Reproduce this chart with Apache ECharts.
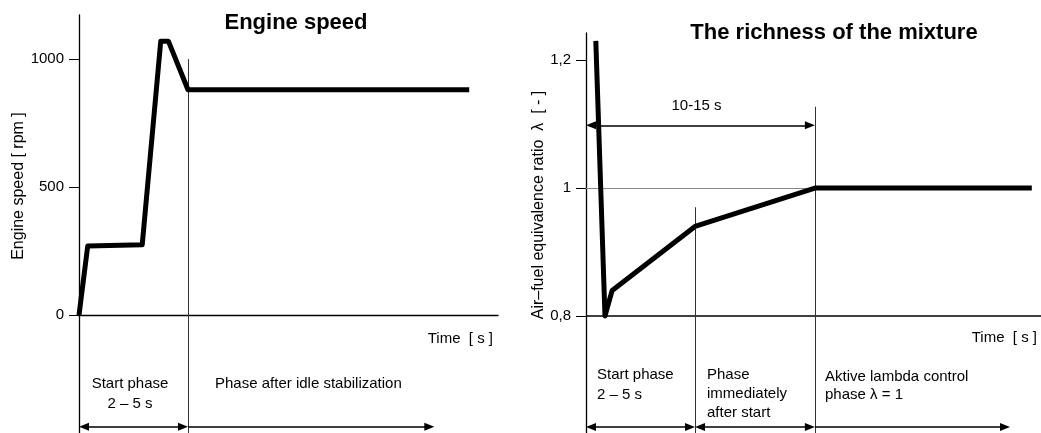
<!DOCTYPE html>
<html><head><meta charset="utf-8">
<script src="https://cdn.jsdelivr.net/npm/echarts@6/dist/echarts.min.js"></script>
<style>html,body{margin:0;padding:0;background:#fff}#c{width:1041px;height:433px}</style>
</head><body><div id="c"></div>
<script>
// ---------------- data ----------------
const speedTime  = [0, 0.4, 2.9, 3.75, 4.1, 5.0, 17.9];      // s
const speedRpm   = [0, 270, 275, 1070, 1070, 880, 880];      // rpm
const lambdaTime = [0.45, 0.87, 1.2, 5.0, 10.5, 20.45];       // s
const lambdaVal  = [1.23, 0.80, 0.84, 0.94, 1.0, 1.0];        // λ
const speedTicks  = [0, 500, 1000];
const lambdaTicks = [0.8, 1.0, 1.2];
const speedPhaseBounds  = [0, 5.0, 16.3];
const lambdaPhaseBounds = [0, 5.0, 10.5, 19.45];
const lambdaWindow = [0, 10.5];        // "10-15 s"
const titles = ['Engine speed', 'The richness of the mixture'];
const speedAxisName  = 'Engine speed [ rpm ]';
const lambdaAxisName = 'Air–fuel equivalence ratio  λ  [ - ]';
const timeAxisName   = 'Time  [ s ]';
const windowLabel    = '10-15 s';
const speedPhaseLabels  = ['Start phase\n2 – 5 s', 'Phase after idle stabilization'];
const lambdaPhaseLabels = ['Start phase\n2 – 5 s', 'Phase\nimmediately\nafter start', 'Aktive lambda control\nphase λ = 1'];

// ---------------- layout / style ----------------
const FONT = 'Liberation Sans, Arial, sans-serif';
const PX_PER_S = 21.8;
const speedRange  = {min: -460, max: 1172};
const lambdaRange = {min: 0.6172, max: 1.2422};
const speedArrowY  = -436;
const lambdaArrowY = 0.6266;
const windowArrowY = 1.098;
const speedVLineTop = [1000];            // top of boundary line (value)
const lambdaVLineTop = [0.97, 1.127];
const HEAD_LEN = 10;
const PAD = (HEAD_LEN / 2) / PX_PER_S;   // so the arrow tip sits on the boundary

const zip = (a, b) => a.map((v, i) => [v, b[i]]);
const thin = {color: '#333', width: 1, type: 'solid'};
const arrowStyle = {color: '#000', width: 1.5, type: 'solid'};
const TRI = 'triangle', AS = [8, HEAD_LEN];

function arrow(x1, x2, y, headL, headR) {
  return [
    {coord: [headL ? x1 + PAD : x1, y], symbol: headL ? TRI : 'none', symbolSize: AS, lineStyle: arrowStyle},
    {coord: [headR ? x2 - PAD : x2, y], symbol: headR ? TRI : 'none', symbolSize: AS}
  ];
}

const speedMarks = [
  [{coord: [speedPhaseBounds[1], speedVLineTop[0]], lineStyle: thin}, {coord: [speedPhaseBounds[1], speedRange.min]}],
  arrow(speedPhaseBounds[0], speedPhaseBounds[1], speedArrowY, true, true),
  arrow(speedPhaseBounds[1], speedPhaseBounds[2], speedArrowY, false, true)
];
const lambdaMarks = [
  {yAxis: lambdaTicks[0], lineStyle: {color: '#000', width: 1.5, type: 'solid'}},
  [{coord: [0, 1.0], lineStyle: {color: '#888', width: 1, type: 'solid'}}, {coord: [lambdaWindow[1], 1.0]}],
  [{coord: [lambdaPhaseBounds[1], lambdaVLineTop[0]], lineStyle: thin}, {coord: [lambdaPhaseBounds[1], lambdaRange.min]}],
  [{coord: [lambdaPhaseBounds[2], lambdaVLineTop[1]], lineStyle: thin}, {coord: [lambdaPhaseBounds[2], lambdaRange.min]}],
  arrow(lambdaPhaseBounds[0], lambdaPhaseBounds[1], lambdaArrowY, true, true),
  arrow(lambdaPhaseBounds[1], lambdaPhaseBounds[2], lambdaArrowY, true, true),
  arrow(lambdaPhaseBounds[2], lambdaPhaseBounds[3], lambdaArrowY, false, true),
  arrow(lambdaWindow[0], lambdaWindow[1], windowArrowY, true, true)
];

const axisBlack = {show: true, lineStyle: {color: '#000', width: 1.3}};
function yAxis(idx, range, ticks, fmt) {
  return {
    type: 'value', gridIndex: idx, min: range.min, max: range.max,
    axisLine: axisBlack,
    axisTick: {show: true, length: 10, customValues: ticks, lineStyle: {color: '#000', width: 1}},
    axisLabel: {show: true, customValues: ticks, margin: 15, color: '#000', fontSize: 15, fontFamily: FONT, formatter: fmt},
    splitLine: {show: false}
  };
}

const txt = (t, x, y, o) => ({type: 'text', x, y, rotation: o && o.rot || 0, silent: true,
  style: {text: t, fill: '#000', font: (o && o.font) || ('15px ' + FONT),
    align: (o && o.align) || 'left', verticalAlign: (o && o.va) || 'middle', lineHeight: (o && o.lh) || 19}});
function ml(t, x, firstMid, lh, align) {
  return txt(t, x, firstMid - lh / 2, {lh, align: align || 'left', va: 'top'});
}

const option = {
  animation: false,
  backgroundColor: '#fff',
  grid: [
    {left: 79, top: 15, width: 419, height: 418, containLabel: false},
    {left: 586, top: 33, width: 455, height: 400, containLabel: false}
  ],
  xAxis: [
    {type: 'value', gridIndex: 0, min: 0, max: 419 / PX_PER_S, axisLine: Object.assign({onZero: true}, axisBlack),
     axisTick: {show: false}, axisLabel: {show: false}, splitLine: {show: false}},
    {type: 'value', gridIndex: 1, min: 0, max: 455 / PX_PER_S, axisLine: {show: false},
     axisTick: {show: false}, axisLabel: {show: false}, splitLine: {show: false}}
  ],
  yAxis: [
    yAxis(0, speedRange, speedTicks, v => String(v)),
    yAxis(1, lambdaRange, lambdaTicks, v => String(+v.toFixed(2)).replace('.', ','))
  ],
  series: [
    {type: 'line', xAxisIndex: 0, yAxisIndex: 0, data: zip(speedTime, speedRpm), symbol: 'none',
     lineStyle: {color: '#000', width: 5, join: 'round', cap: 'butt'}, z: 5,
     markLine: {silent: true, symbol: 'none', label: {show: false}, animation: false, data: speedMarks}},
    {type: 'line', xAxisIndex: 1, yAxisIndex: 1, data: zip(lambdaTime, lambdaVal), symbol: 'none',
     lineStyle: {color: '#000', width: 5, join: 'round', cap: 'butt'}, z: 5,
     markLine: {silent: true, symbol: 'none', label: {show: false}, animation: false, data: lambdaMarks}}
  ],
  graphic: [
    txt(titles[0], 296, 23, {font: 'bold 22px ' + FONT, align: 'center'}),
    txt(titles[1], 834, 33, {font: 'bold 22px ' + FONT, align: 'center'}),
    txt(speedAxisName, 19, 186, {rot: Math.PI / 2, align: 'center', font: '16px ' + FONT}),
    txt(lambdaAxisName, 539, 205, {rot: Math.PI / 2, align: 'center', font: '16px ' + FONT}),
    txt(timeAxisName, 493, 339, {align: 'right'}),
    txt(timeAxisName, 1037, 338, {align: 'right'}),
    txt(windowLabel, 696.5, 106, {align: 'center'}),
    ml(speedPhaseLabels[0], 130, 383.5, 20.5, 'center'),
    ml(speedPhaseLabels[1], 215, 383.5, 20),
    ml(lambdaPhaseLabels[0], 597, 375, 19.5),
    ml(lambdaPhaseLabels[1], 707, 375, 19),
    ml(lambdaPhaseLabels[2], 825, 376.5, 18.5)
  ]
};
const chart = echarts.init(document.getElementById('c'), null, {renderer: 'canvas'});
chart.setOption(option);
</script></body></html>
